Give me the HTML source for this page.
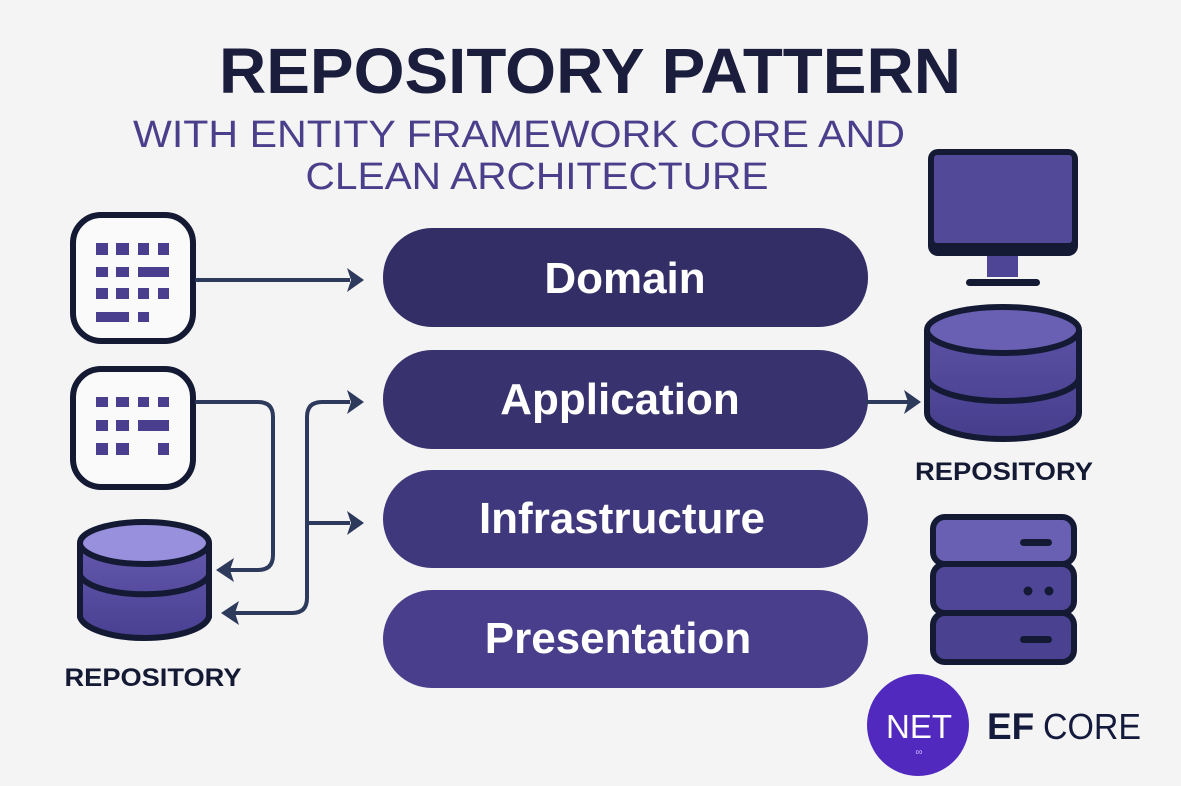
<!DOCTYPE html>
<html><head><meta charset="utf-8"><style>
html,body{margin:0;padding:0;background:#f4f4f5;}
svg{display:block;}
text{font-family:"Liberation Sans",sans-serif;}
</style></head><body>
<svg width="1181" height="786" viewBox="0 0 1181 786" xmlns="http://www.w3.org/2000/svg">
<rect width="1181" height="786" fill="#f4f4f5"/>
<defs>
<linearGradient id="cylL" x1="0" y1="0" x2="0" y2="1"><stop offset="0" stop-color="#6358ad"/><stop offset="1" stop-color="#4a4092"/></linearGradient>
<linearGradient id="cylR" x1="0" y1="0" x2="0" y2="1"><stop offset="0" stop-color="#5b51a5"/><stop offset="1" stop-color="#463d8c"/></linearGradient>
</defs>
<!-- Titles -->
<text x="590" y="93" text-anchor="middle" font-size="64" font-weight="bold" fill="#1b1d3c" textLength="742" lengthAdjust="spacingAndGlyphs">REPOSITORY PATTERN</text>
<text x="519" y="147" text-anchor="middle" font-size="38" fill="#4a3f8a" textLength="772" lengthAdjust="spacingAndGlyphs">WITH ENTITY FRAMEWORK CORE AND</text>
<text x="537" y="189" text-anchor="middle" font-size="38" fill="#4a3f8a" textLength="463" lengthAdjust="spacingAndGlyphs">CLEAN ARCHITECTURE</text>

<!-- Pills -->
<rect x="383" y="228" width="485" height="99" rx="49" fill="#332e66"/>
<rect x="383" y="350" width="485" height="99" rx="49" fill="#38326e"/>
<rect x="383" y="470" width="485" height="98" rx="49" fill="#40387d"/>
<rect x="383" y="590" width="485" height="98" rx="49" fill="#483e8c"/>
<g fill="#fff" font-size="44" font-weight="bold" text-anchor="middle">
<text x="625" y="293">Domain</text>
<text x="620" y="414">Application</text>
<text x="622" y="533">Infrastructure</text>
<text x="618" y="653">Presentation</text>
</g>

<!-- Left boxes -->
<rect x="73" y="215" width="120" height="126" rx="28" fill="#fafafb" stroke="#141a33" stroke-width="6"/>
<g fill="#4a3f8e">
<rect x="96" y="243" width="12" height="12"/><rect x="116" y="243" width="13" height="12"/><rect x="138" y="243" width="11" height="12"/><rect x="158" y="243" width="11" height="12"/>
<rect x="96" y="267" width="12" height="10"/><rect x="116" y="267" width="13" height="10"/><rect x="138" y="267" width="31" height="10"/>
<rect x="96" y="288" width="12" height="11"/><rect x="116" y="288" width="13" height="11"/><rect x="138" y="288" width="11" height="11"/><rect x="158" y="288" width="11" height="11"/>
<rect x="96" y="312" width="33" height="10"/><rect x="138" y="312" width="11" height="10"/>
</g>
<rect x="73" y="369" width="120" height="118" rx="28" fill="#fafafb" stroke="#141a33" stroke-width="6"/>
<g fill="#4a3f8e">
<rect x="96" y="397" width="12" height="10"/><rect x="116" y="397" width="13" height="10"/><rect x="138" y="397" width="11" height="10"/><rect x="158" y="397" width="11" height="10"/>
<rect x="96" y="420" width="12" height="11"/><rect x="116" y="420" width="13" height="11"/><rect x="138" y="420" width="31" height="11"/>
<rect x="96" y="443" width="12" height="12"/><rect x="116" y="443" width="13" height="12"/><rect x="158" y="443" width="11" height="12"/>
</g>

<!-- Connectors -->
<g stroke="#2e3a5c" stroke-width="4" fill="none">
<path d="M195 280 H350"/>
<path d="M195 402 H258 Q273 402 273 417 V555 Q273 570 258 570 H225"/>
<path d="M350 402 H322 Q307 402 307 417 V598 Q307 613 292 613 H230"/>
<path d="M307 523 H350"/>
<path d="M866 402 H908"/>
</g>
<g fill="#2e3a5c">
<path d="M364 280 L347 268 L351 280 L347 292Z"/>
<path d="M364 402 L347 390 L351 402 L347 414Z"/>
<path d="M364 523 L347 511 L351 523 L347 535Z"/>
<path d="M216 570 L234 558 L230 570 L234 582Z"/>
<path d="M221 613 L239 601 L235 613 L239 625Z"/>
<path d="M921 402 L904 390 L908 402 L904 414Z"/>
</g>

<!-- Left cylinder -->
<path d="M80 543 V617 A65 24 0 0 0 209 617 V543" fill="url(#cylL)" stroke="#141a33" stroke-width="6"/>
<path d="M80 575 A65 22 0 0 0 209 575" fill="none" stroke="#141a33" stroke-width="6"/>
<ellipse cx="144.5" cy="543" rx="64.5" ry="21" fill="#9890dc" stroke="#141a33" stroke-width="6"/>
<text x="153" y="686" text-anchor="middle" font-size="25" font-weight="bold" fill="#141a33" textLength="177" lengthAdjust="spacingAndGlyphs">REPOSITORY</text>

<!-- Monitor -->
<rect x="987" y="255" width="31" height="22" fill="#4e4596"/>
<rect x="928" y="149" width="150" height="107" rx="10" fill="#141a33"/>
<rect x="934" y="155" width="138" height="88" rx="3" fill="#524a99"/>
<rect x="966" y="279" width="74" height="7" rx="3.5" fill="#141a33"/>

<!-- Right cylinder -->
<path d="M927 330 V413 A76 26 0 0 0 1079 413 V330" fill="url(#cylR)" stroke="#141a33" stroke-width="6"/>
<path d="M927 377 A76 24 0 0 0 1079 377" fill="none" stroke="#141a33" stroke-width="6"/>
<ellipse cx="1003" cy="330" rx="76" ry="23" fill="#6a60b3" stroke="#141a33" stroke-width="6"/>
<text x="1004" y="480" text-anchor="middle" font-size="25" font-weight="bold" fill="#141a33" textLength="178" lengthAdjust="spacingAndGlyphs">REPOSITORY</text>

<!-- Server -->
<g stroke="#141a33" stroke-width="6">
<rect x="933" y="517" width="141" height="47" rx="12" fill="#6a60b3"/>
<rect x="933" y="564" width="141" height="49" rx="12" fill="#4f4697"/>
<rect x="933" y="613" width="141" height="49" rx="12" fill="#4a4190"/>
</g>
<g fill="#141a33">
<rect x="1020" y="539" width="32" height="7" rx="3.5"/>
<circle cx="1028" cy="591" r="4.5"/><circle cx="1049" cy="591" r="4.5"/>
<rect x="1020" y="636" width="32" height="7" rx="3.5"/>
</g>

<!-- NET logo -->
<ellipse cx="918" cy="725" rx="51" ry="51" fill="#5129be"/>
<text x="919" y="738" text-anchor="middle" font-size="33" fill="#fff">NET</text>
<text x="919" y="755" text-anchor="middle" font-size="10" fill="#c8b8ff">&#8734;</text>
<text x="987" y="739" font-size="37" font-weight="bold" fill="#141a3c">EF</text>
<text x="1043" y="739" font-size="36" fill="#141a3c" textLength="98" lengthAdjust="spacingAndGlyphs">CORE</text>
</svg>
</body></html>
